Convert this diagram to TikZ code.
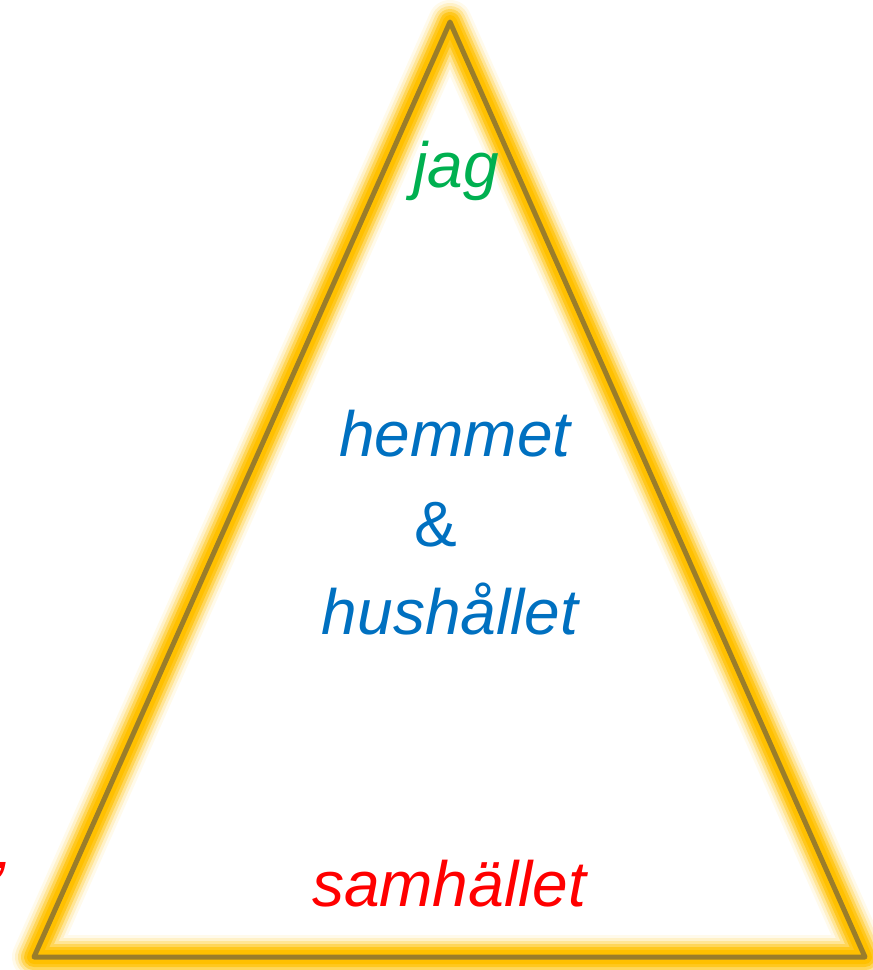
\documentclass[tikz,border=0pt]{standalone}
\usepackage{fontspec}
\setmainfont{Liberation Sans}
\definecolor{glowc}{HTML}{FFC000}
\definecolor{edgec}{HTML}{9A7D2A}
\definecolor{jagc}{HTML}{00B050}
\definecolor{homec}{HTML}{0070C0}
\definecolor{samc}{HTML}{FF0000}
\tikzset{
  lbl/.style={anchor=base, inner sep=0pt, font=\fontsize{64}{70}\selectfont\itshape},
  glow/.style={draw=glowc, line join=round, line cap=round}
}
\begin{document}
\begin{tikzpicture}[x=1pt,y=-1pt]
\useasboundingbox (0,0) rectangle (873,970);
\coordinate (A) at (450,22);
\coordinate (B) at (34,957);
\coordinate (C) at (865,957);
\draw[glow, line width=44, opacity=0.08] (A) -- (B) -- (C) -- cycle;
\draw[glow, line width=38, opacity=0.15] (A) -- (B) -- (C) -- cycle;
\draw[glow, line width=32, opacity=0.25] (A) -- (B) -- (C) -- cycle;
\draw[glow, line width=26, opacity=0.4] (A) -- (B) -- (C) -- cycle;
\draw[glow, line width=20, opacity=0.65] (A) -- (B) -- (C) -- cycle;
\draw[glow, line width=14] (A) -- (B) -- (C) -- cycle;
\draw[edgec, line width=5, line join=round] (A) -- (B) -- (C) -- cycle;
\node[lbl, text=jagc] (jag) at (456,187) {jag};
\node[lbl, text=homec] (hem) at (455,456) {hemmet};
\node[lbl, text=homec] (amp) at (436,546) {\upshape\&};
\node[lbl, text=homec] (hus) at (450,634) {hushållet};
\node[lbl, text=samc] (sam) at (449,906) {samhället};
\node[lbl, text=samc, anchor=base east] (q) at (4,906) {”};
\end{tikzpicture}
\end{document}
